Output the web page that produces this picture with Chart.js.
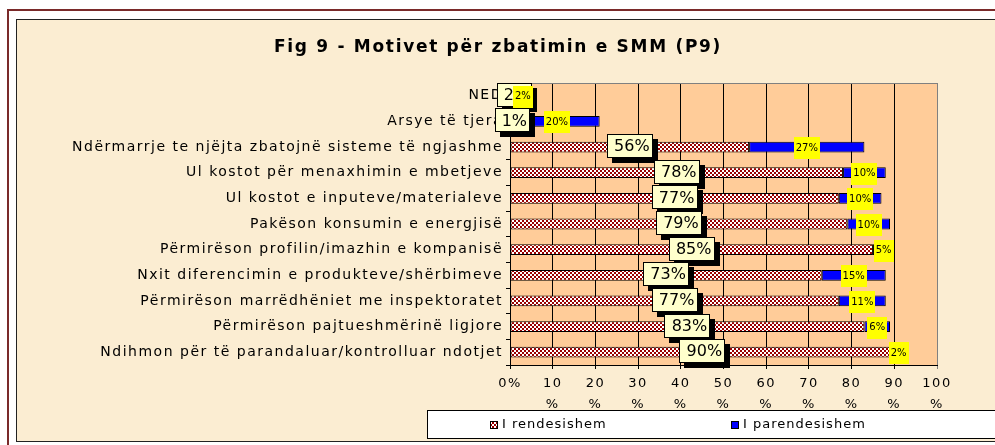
<!DOCTYPE html>
<html>
<head>
<meta charset="utf-8">
<script src="https://cdn.jsdelivr.net/npm/chart.js@4/dist/chart.umd.min.js"></script>
<style>
html,body{margin:0;padding:0;background:#fff;}
#wrap{width:995px;height:445px;position:relative;}
</style>
</head>
<body>
<div id="wrap"><canvas id="c" width="995" height="445"></canvas></div>
<script>
const categories = [
  'NED',
  'Arsye të tjera',
  'Ndërmarrje te njëjta zbatojnë sisteme të ngjashme',
  'Ul kostot për menaxhimin e mbetjeve',
  'Ul kostot e inputeve/materialeve',
  'Pakëson konsumin e energjisë',
  'Përmirëson profilin/imazhin e kompanisë',
  'Nxit diferencimin e produkteve/shërbimeve',
  'Përmirëson marrëdhëniet me inspektoratet',
  'Përmirëson pajtueshmërinë ligjore',
  'Ndihmon për të parandaluar/kontrolluar ndotjet'
];
const importantValues   = [2, 1, 56, 78, 77, 79, 85, 73, 77, 83, 90];
const unimportantValues = [2, 20, 27, 10, 10, 10, 5, 15, 11, 6, 2];
const xTickLabels = ['0%', '10\n%', '20\n%', '30\n%', '40\n%', '50\n%', '60\n%', '70\n%', '80\n%', '90\n%', '100\n%'];
const seriesNames = ['I rendesishem', 'I parendesishem'];
const titleText = 'Fig 9 - Motivet për zbatimin e SMM (P9)';

const FONT = '"DejaVu Sans", Verdana, sans-serif';
const LS = '1.5px';

function makePattern() {
  const p = document.createElement('canvas');
  p.width = 4; p.height = 4;
  const g = p.getContext('2d');
  g.fillStyle = '#990000'; g.fillRect(0, 0, 4, 4);
  g.fillStyle = '#ffffff';
  g.fillRect(0, 0, 2, 2);
  g.fillRect(2, 2, 2, 2);
  return document.getElementById('c').getContext('2d').createPattern(p, 'repeat');
}
const redPattern = makePattern();

const spacingPlugin = {
  id: 'spacing',
  beforeUpdate(chart) { chart.ctx.letterSpacing = LS; },
  beforeLayout(chart) { chart.ctx.letterSpacing = LS; },
  beforeDraw(chart) { chart.ctx.letterSpacing = LS; }
};

const bgPlugin = {
  id: 'bg',
  beforeDraw(chart) {
    const ctx = chart.ctx, a = chart.chartArea;
    ctx.save();
    ctx.fillStyle = '#ffffff';
    ctx.fillRect(0, 0, chart.width, chart.height);
    ctx.strokeStyle = '#7a2a2a';
    ctx.lineWidth = 2;
    ctx.strokeRect(8, 10, 1100, 1000);
    ctx.fillStyle = '#fbedd2';
    ctx.fillRect(16, 19, 1100, 423);
    ctx.strokeStyle = '#222';
    ctx.lineWidth = 1;
    ctx.strokeRect(16.5, 19.5, 1100, 422);
    ctx.fillStyle = '#ffcc99';
    ctx.fillRect(a.left, a.top, a.right - a.left, a.bottom - a.top);
    ctx.fillStyle = '#000';
    ctx.font = 'bold 17px ' + FONT;
    ctx.letterSpacing = '1.7px';
    ctx.textAlign = 'center';
    ctx.textBaseline = 'middle';
    ctx.fillText(titleText, 498, 48);
    ctx.restore();
  },
  beforeDatasetsDraw(chart) {
    const ctx = chart.ctx, a = chart.chartArea;
    ctx.save();
    ctx.strokeStyle = '#808080';
    ctx.lineWidth = 1;
    ctx.beginPath();
    ctx.moveTo(a.left, a.top + 0.5);
    ctx.lineTo(a.right + 0.5, a.top + 0.5);
    ctx.lineTo(a.right + 0.5, a.bottom);
    ctx.stroke();
    ctx.restore();
  }
};

const labelPlugin = {
  id: 'labels',
  afterDatasetsDraw(chart) {
    const ctx = chart.ctx;
    const m0 = chart.getDatasetMeta(0), m1 = chart.getDatasetMeta(1);
    ctx.save();
    ctx.letterSpacing = '0px';
    ctx.textAlign = 'center';
    ctx.textBaseline = 'middle';
    ctx.font = '16px ' + FONT;
    m0.data.forEach((bar, i) => {
      const txt = importantValues[i] + '%';
      const cx = (bar.x + bar.base) / 2, cy = bar.y - 1;
      const w = Math.round(ctx.measureText(txt).width + 10), h = 24;
      const x0 = Math.round(cx - w / 2), y0 = Math.round(cy - h / 2);
      ctx.fillStyle = '#000';
      ctx.fillRect(x0 + 5, y0 + 5, w, h);
      ctx.fillStyle = '#ffffcc';
      ctx.fillRect(x0, y0, w, h);
      ctx.strokeStyle = '#000';
      ctx.lineWidth = 1;
      ctx.strokeRect(x0 + 0.5, y0 + 0.5, w - 1, h - 1);
      ctx.fillStyle = '#000';
      ctx.fillText(txt, cx + 2, cy + 1);
    });
    ctx.font = '10px ' + FONT;
    m1.data.forEach((bar, i) => {
      const txt = unimportantValues[i] + '%';
      const cx = (bar.x + bar.base) / 2, cy = bar.y + 1;
      const w = Math.round(ctx.measureText(txt).width + 4), h = 22;
      const x0 = Math.round(cx - w / 2), y0 = Math.round(cy - h / 2);
      ctx.fillStyle = '#ffff00';
      ctx.fillRect(x0, y0, w, h);
      ctx.fillStyle = '#000';
      ctx.fillText(txt, cx, cy);
    });
    ctx.restore();
  },
  afterDraw(chart) {
    const ctx = chart.ctx;
    ctx.save();
    ctx.fillStyle = '#ffffff';
    ctx.fillRect(427, 410, 600, 28);
    ctx.strokeStyle = '#000';
    ctx.lineWidth = 1;
    ctx.strokeRect(427.5, 410.5, 600, 28);
    const items = [
      { x: 490, fill: redPattern, text: seriesNames[0] },
      { x: 731, fill: '#0000ff', text: seriesNames[1] }
    ];
    ctx.font = '13px ' + FONT;
    ctx.letterSpacing = '1px';
    ctx.textAlign = 'left';
    ctx.textBaseline = 'middle';
    items.forEach(it => {
      ctx.fillStyle = it.fill;
      ctx.fillRect(it.x, 421, 8, 8);
      ctx.strokeStyle = '#000';
      ctx.strokeRect(it.x + 0.5, 421.5, 7, 7);
      ctx.fillStyle = '#000';
      ctx.fillText(it.text, it.x + 12, 425);
    });
    ctx.restore();
  }
};

new Chart(document.getElementById('c'), {
  type: 'bar',
  data: {
    labels: categories,
    datasets: [
      {
        label: seriesNames[0],
        data: importantValues,
        backgroundColor: redPattern,
        borderColor: '#000',
        borderWidth: 1,
        borderSkipped: false,
        barPercentage: 0.42,
        categoryPercentage: 1
      },
      {
        label: seriesNames[1],
        data: unimportantValues,
        backgroundColor: '#0000ff',
        borderColor: '#000',
        borderWidth: 1,
        borderSkipped: false,
        barPercentage: 0.42,
        categoryPercentage: 1
      }
    ]
  },
  options: {
    indexAxis: 'y',
    responsive: false,
    animation: false,
    devicePixelRatio: 1,
    layout: { padding: { left: 0, right: 58, top: 83, bottom: 0 } },
    plugins: {
      legend: { display: false },
      title: { display: false },
      tooltip: { enabled: false }
    },
    scales: {
      x: {
        stacked: true,
        min: 0,
        max: 100,
        afterFit(scale) { scale.height = 80; },
        ticks: {
          stepSize: 10,
          autoSkip: false,
          maxRotation: 0,
          color: '#000',
          padding: 4,
          font: { family: FONT, size: 13, lineHeight: 1.6 },
          callback(value) { return xTickLabels[Math.round(value / 10)].split('\n'); }
        },
        grid: {
          color(c) { return c.tick && c.tick.value === 100 ? '#808080' : '#000'; },
          lineWidth: 1,
          tickLength: 4,
          drawOnChartArea: true
        },
        border: { color: '#000', width: 1 }
      },
      y: {
        stacked: true,
        afterFit(scale) { scale.width = 510; },
        ticks: {
          color: '#000',
          padding: 3,
          autoSkip: false,
          font: { family: FONT, size: 14 }
        },
        grid: {
          display: true,
          drawOnChartArea: false,
          offset: true,
          color: '#000',
          tickLength: 4
        },
        border: { color: '#000', width: 1 }
      }
    }
  },
  plugins: [spacingPlugin, bgPlugin, labelPlugin]
});
</script>
</body>
</html>
